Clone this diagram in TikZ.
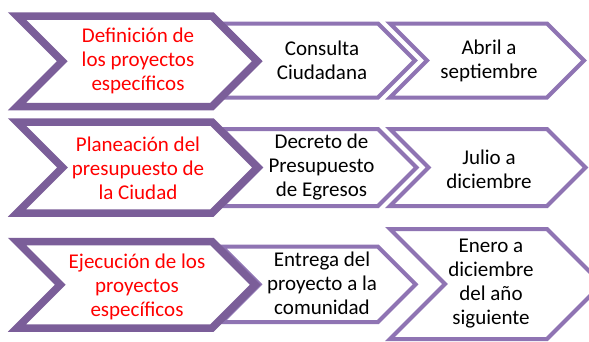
\documentclass[tikz,border=0pt]{standalone}
\usepackage{fontspec}
\setmainfont{Carlito}
\usetikzlibrary{shadows}
\definecolor{darkplum}{HTML}{7B5E99}
\definecolor{lightplum}{HTML}{8F74B3}
\tikzset{
	bigchev/.style={draw=darkplum, line width=7.5pt, fill=white,
		drop shadow={opacity=0.3, shadow xshift=2pt, shadow yshift=-3pt}},
	smallchev/.style={draw=lightplum, line width=4pt, fill=white},
	stagetxt/.style={align=center, text=red, font=\fontsize{21}{24}\selectfont},
	steptxt/.style={align=center, text=black, font=\fontsize{21}{24}\selectfont},
}
% #1 style, #2 left, #3 right, #4 top, #5 bottom
\newcommand{\chev}[5]{%
	\path[#1] (#2,#4) -- (#3,#4) -- ({#3+(#5-#4)/2},{(#4+#5)/2}) -- (#3,#5)
		-- (#2,#5) -- ({#2+(#5-#4)/2},{(#4+#5)/2}) -- cycle;}
\begin{document}
\begin{tikzpicture}[x=1pt,y=-1pt]
	\useasboundingbox (0,0) rectangle (589,341);
	\clip (0,0) rectangle (589,341);
	\fill[white] (0,0) rectangle (589,341);

	% row 1
	\chev{smallchev}{390}{547}{23.5}{97.5}
	\chev{smallchev}{222}{378}{23.5}{97.5}
	\chev{bigchev}{17}{212}{16}{106.5}
	\node[stagetxt] (def) at (138,61) {Definición de\\los proyectos\\específicos};
	\node[steptxt] (con) at (322,60) {Consulta\\Ciudadana};
	\node[steptxt] (abr) at (489,61) {Abril a\\septiembre};

	% row 2
	\chev{smallchev}{390}{547}{129}{206}
	\chev{smallchev}{222}{378}{129}{206}
	\chev{bigchev}{17}{212}{122}{213}
	\node[stagetxt] (pla) at (138,168) {Planeación del\\presupuesto de\\la Ciudad};
	\node[steptxt] (dec) at (321.5,167.5) {Decreto de\\Presupuesto\\de Egresos};
	\node[steptxt] (jul) at (489,169) {Julio a\\diciembre};

	% row 3
	\chev{smallchev}{390}{547}{229}{339}
	\chev{smallchev}{222}{378}{246.7}{322}
	\chev{bigchev}{17}{212}{241.5}{328}
	\node[stagetxt] (eje) at (137,287) {Ejecución de los\\proyectos\\específicos};
	\node[steptxt] (ent) at (322,283) {Entrega del\\proyecto a la\\comunidad};
	\node[steptxt] (ene) at (491,284) {Enero a\\diciembre\\del año\\siguiente};
\end{tikzpicture}
\end{document}
